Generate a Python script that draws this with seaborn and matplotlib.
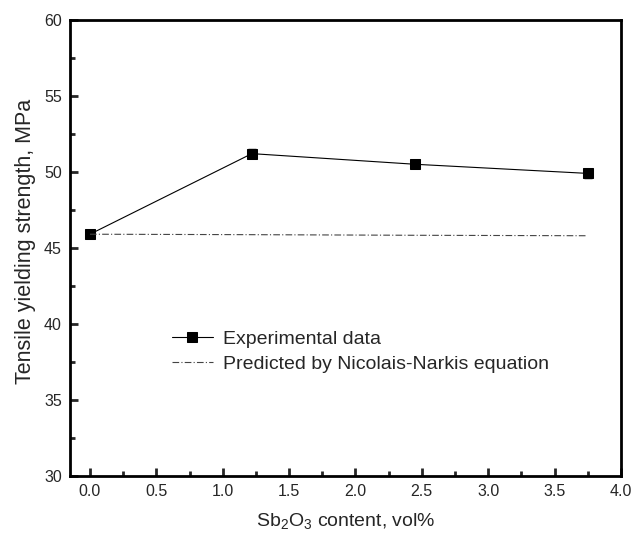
import matplotlib
matplotlib.use("Agg")
import matplotlib.pyplot as plt
import seaborn as sns
import pandas as pd
from matplotlib.ticker import MultipleLocator

content = [0.0, 1.22, 2.45, 3.75]
experimental = [45.9, 51.2, 50.5, 49.9]
exp_err = [0.15, 0.3, 0.15, 0.3]
predicted = [45.9, 45.87, 45.83, 45.8]

sns.set_theme(style="ticks")
plt.rcParams['font.family'] = ['Liberation Sans', 'DejaVu Sans']
plt.rcParams['mathtext.fontset'] = 'custom'
plt.rcParams['mathtext.rm'] = 'Liberation Sans'

fig = plt.figure(figsize=(6.31, 5.36), dpi=100)
ax = fig.add_axes([0.111, 0.112, 0.873, 0.851])

df = pd.DataFrame({"x": content, "exp": experimental, "pred": predicted})

sns.lineplot(data=df, x="x", y="exp", ax=ax, color="black", lw=0.8,
             marker="s", markersize=6.5, markeredgecolor="black",
             label="Experimental data")
ax.errorbar(content, experimental, yerr=exp_err, fmt="none", ecolor="black",
            elinewidth=1.0, capsize=3)
sns.lineplot(data=df, x="x", y="pred", ax=ax, color="#444444", lw=0.8,
             linestyle=(0, (6, 2, 1, 2)), label="Predicted by Nicolais-Narkis equation")

ax.set_xlim(-0.15, 4.0)
ax.set_ylim(30, 60)
ax.xaxis.set_major_locator(MultipleLocator(0.5))
ax.xaxis.set_minor_locator(MultipleLocator(0.25))
ax.yaxis.set_major_locator(MultipleLocator(5))
ax.yaxis.set_minor_locator(MultipleLocator(2.5))
ax.tick_params(which="major", direction="in", length=6, width=2, labelsize=11.5, pad=6)
ax.tick_params(which="minor", direction="in", length=3.5, width=2)
for s in ax.spines.values():
    s.set_linewidth(2)
    s.set_color("black")

ax.set_xlabel("Sb$_2$O$_3$ content, vol%", fontsize=14, labelpad=9)
ax.set_ylabel("Tensile yielding strength, MPa", fontsize=15.5, labelpad=6)
ax.yaxis.set_label_coords(-0.062, 0.515)

ax.legend(loc="upper left", bbox_to_anchor=(0.185, 0.32), frameon=False,
          borderaxespad=0, borderpad=0,
          fontsize=14, handlelength=2.1, handletextpad=0.5, labelspacing=0.38)

fig.savefig("out.png", dpi=100)
